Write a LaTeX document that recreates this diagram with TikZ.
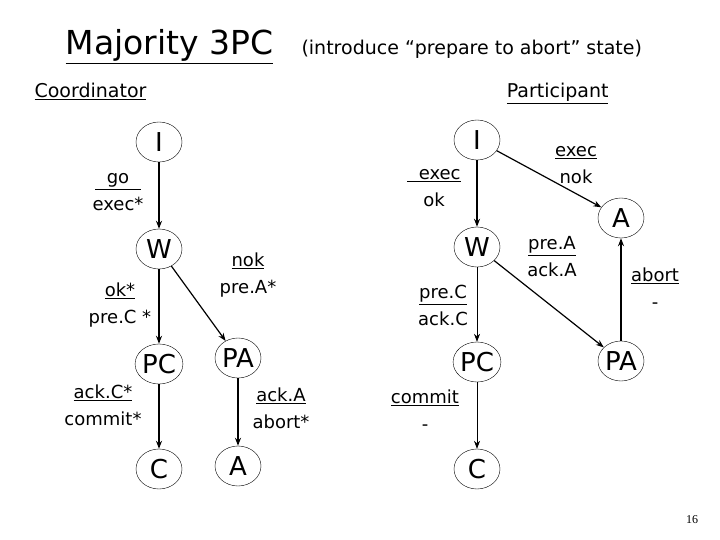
\documentclass[tikz,border=0pt]{standalone}
\usepackage{fontspec}
\setmainfont{DejaVu Sans}
\newfontfamily\numfont{Liberation Serif}
\usetikzlibrary{shapes.geometric,arrows.meta}
\newcommand{\lbl}[2]{\begin{tabular}{@{}c@{}}\underline{#1}\\#2\end{tabular}}
\begin{document}
\begin{tikzpicture}[x=1pt,y=-1pt,
 st/.style={ellipse,draw,thin,minimum width=46pt,minimum height=40pt,inner sep=0pt,font=\fontsize{26}{26}\selectfont},
 lb/.style={font=\fontsize{18}{27}\selectfont,align=center,inner sep=0pt},
 ar/.style={-{Stealth[length=8pt,width=6pt]},line width=1.2pt},
 arr/.style={-{Stealth[length=8pt,width=6pt]},line width=0.6pt}]
\useasboundingbox (0,0) rectangle (720,540);
\node[font=\fontsize{33}{33}\selectfont,anchor=base west] (t) at (62,55) {\underline{Majority 3PC}};
\node[font=\fontsize{19}{19}\selectfont,anchor=base west] (t2) at (298,55) {(introduce “prepare to abort” state)};
\node[font=\fontsize{19}{19}\selectfont,anchor=base west] (co) at (31,98) {\underline{Coordinator}};
\node[font=\fontsize{19}{19}\selectfont,anchor=base east] (pa) at (612,98) {\underline{Participant}};
\node[font=\numfont\fontsize{12}{12}\selectfont] (n) at (692,520) {16};
% coordinator
\node[st] (cI) at (159,142) {I};
\node[st] (cW) at (159,249) {W};
\node[st] (cPC) at (159,364) {PC};
\node[st] (cC) at (159,469) {C};
\node[st] (cPA) at (238,358) {PA};
\node[st] (cA) at (238,466) {A};
\draw[ar] (cI) -- (cW);
\draw[ar] (cW) -- (cPC);
\draw[ar] (cPC) -- (cC);
\draw[ar] (cW) -- (cPA);
\draw[ar] (cPA) -- (cA);
\node[lb] (l1) at (118,192) {\lbl{\hbox{~~go~~}}{exec*}};
\node[lb] (l2) at (120,305) {\lbl{ok*}{pre.C *}};
\node[lb] (l3) at (103,407) {\lbl{ack.C*}{commit*}};
\node[lb] (l4) at (248,275) {\lbl{nok}{pre.A*}};
\node[lb] (l5) at (281,410) {\lbl{ack.A}{abort*}};
% participant
\node[st] (pI) at (477,140) {I};
\node[st] (pW) at (477,247) {W};
\node[st] (pPC) at (477,362) {PC};
\node[st] (pC) at (477,469) {C};
\node[st] (pA) at (621,218) {A};
\node[st] (pPA) at (621,361) {PA};
\draw[ar] (pI) -- (pW);
\draw[arr] (pW) -- (pPC);
\draw[arr] (pPC) -- (pC);
\draw[ar] (pI) -- (pA);
\draw[ar] (pW) -- (pPA);
\draw[ar] (pPA) -- (pA);
\node[lb] (l6) at (434,188) {\lbl{\hbox{~~exec}}{ok}};
\node[lb] (l7) at (443,307) {\lbl{pre.C}{ack.C}};
\node[lb] (l8) at (425,412) {\lbl{commit}{-}};
\node[lb] (l9) at (576,165) {\lbl{exec}{nok}};
\node[lb] (l10) at (552,258) {\lbl{pre.A}{ack.A}};
\node[lb] (l11) at (655,290) {\lbl{abort}{-}};
\end{tikzpicture}
\end{document}
